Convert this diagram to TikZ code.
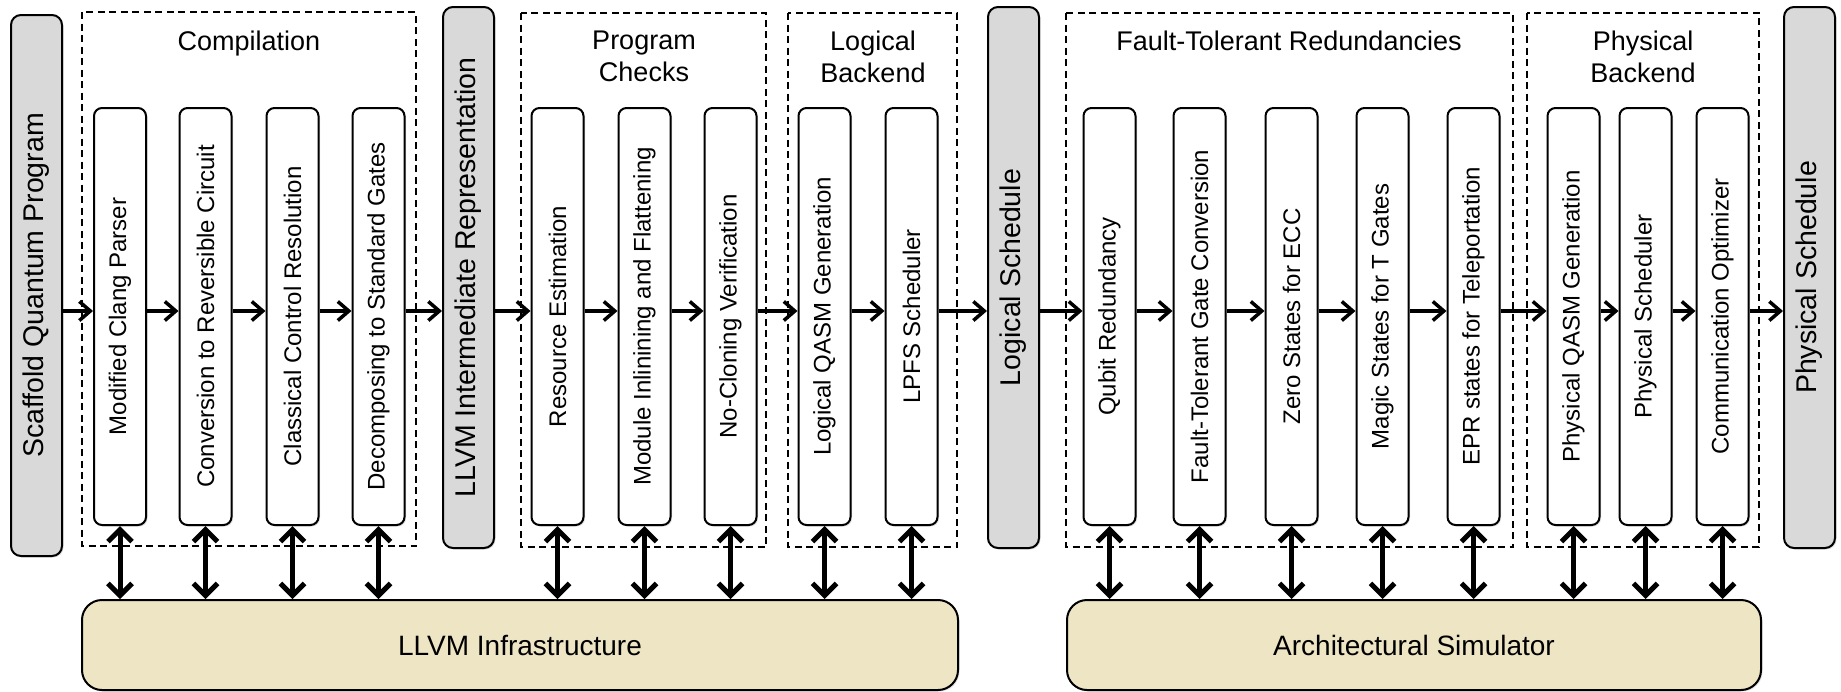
\documentclass[tikz,border=0pt]{standalone}
\usepackage{fontspec}
\setmainfont{Liberation Sans}
\usepackage{graphicx}
\usetikzlibrary{arrows.meta,shadows}
\definecolor{graybox}{RGB}{217,217,217}
\definecolor{beige}{RGB}{238,229,196}
\tikzset{
  shd/.style={drop shadow={shadow xshift=1.5pt, shadow yshift=-1.5pt, opacity=0.25}},
  basebox/.style={draw=black, line width=2pt, inner sep=0pt, shd},
  stage/.style={basebox, fill=white, rounded corners=8pt, minimum width=52pt, minimum height=417pt, font=\fontsize{24}{28}\selectfont},
  bigbox/.style={basebox, fill=graybox, rounded corners=10pt, minimum width=51pt, minimum height=541pt, font=\fontsize{28.5}{34}\selectfont},
  infra/.style={basebox, fill=beige, rounded corners=20pt, minimum height=90pt, font=\fontsize{28}{34}\selectfont},
  frame/.style={draw=black, line width=1.8pt, dash pattern=on 7pt off 4.5pt},
  ttl/.style={anchor=north, inner sep=0pt, align=center, font=\fontsize{27}{32}\selectfont},
  harr/.style={line width=3.5pt, -{Straight Barb[length=11pt,width=19pt]}},
  varr/.style={line width=5pt, {Straight Barb[length=12pt,width=24pt]}-{Straight Barb[length=12pt,width=24pt]}},
}
\begin{document}
\begin{tikzpicture}[x=1pt,y=-1pt]
\useasboundingbox (0,0) rectangle (1841,691);
% dashed groups
\draw[frame] (82,12) rectangle (416,546);
\draw[frame] (521,13) rectangle (766,547);
\draw[frame] (788,13) rectangle (957,547);
\draw[frame] (1066,13) rectangle (1513,547);
\draw[frame] (1527,13) rectangle (1759,547);
% titles
\node[ttl] (tcomp) at (249,31) {Compilation};
\node[ttl] (tpc) at (644,31) {Program\\Checks};
\node[ttl] (tlb) at (873,31) {Logical\\Backend};
\node[ttl] (tft) at (1289,31) {Fault-Tolerant Redundancies};
\node[ttl] (tpb) at (1643,31) {Physical\\Backend};
% big boxes
\node[bigbox] (sqp) at (36.5,285.5) {\rotatebox{90}{Scaffold Quantum Program}};
\node[bigbox] (ir) at (468.5,277.5) {\rotatebox{90}{LLVM Intermediate Representation}};
\node[bigbox] (ls) at (1013.5,277.5) {\rotatebox{90}{Logical Schedule}};
\node[bigbox] (ps) at (1809.5,277.5) {\rotatebox{90}{Physical Schedule}};
% stages
\node[stage] (b1) at (120,316.5) {\rotatebox{90}{Modified Clang Parser}};
\node[stage] (b2) at (205.5,316.5) {\rotatebox{90}{Conversion to Reversible Circuit}};
\node[stage] (b3) at (292.5,316.5) {\rotatebox{90}{Classical Control Resolution}};
\node[stage] (b4) at (378.5,316.5) {\rotatebox{90}{Decomposing to Standard Gates}};
\node[stage] (pc1) at (557.5,316.5) {\rotatebox{90}{Resource Estimation}};
\node[stage] (pc2) at (644.5,316.5) {\rotatebox{90}{Module Inlinining and Flattening}};
\node[stage] (pc3) at (730.5,316.5) {\rotatebox{90}{No-Cloning Verification}};
\node[stage] (lb1) at (824.5,316.5) {\rotatebox{90}{Logical QASM Generation}};
\node[stage] (lb2) at (911.5,316.5) {\rotatebox{90}{LPFS Scheduler}};
\node[stage] (ft1) at (1109.5,316.5) {\rotatebox{90}{Qubit Redundancy}};
\node[stage] (ft2) at (1199.5,316.5) {\rotatebox{90}{Fault-Tolerant Gate Conversion}};
\node[stage] (ft3) at (1291.5,316.5) {\rotatebox{90}{Zero States for ECC}};
\node[stage] (ft4) at (1382.5,316.5) {\rotatebox{90}{Magic States for T Gates}};
\node[stage] (ft5) at (1473.5,316.5) {\rotatebox{90}{EPR states for Teleportation}};
\node[stage] (pb1) at (1573.5,316.5) {\rotatebox{90}{Physical QASM Generation}};
\node[stage] (pb2) at (1645.5,316.5) {\rotatebox{90}{Physical Scheduler}};
\node[stage] (pb3) at (1722.5,316.5) {\rotatebox{90}{Communication Optimizer}};
% infrastructure
\node[infra, minimum width=876pt] (llvm) at (520,645) {LLVM Infrastructure};
\node[infra, minimum width=694pt] (arch) at (1414,645) {Architectural Simulator};
% flow arrows
\coordinate (ay) at (0,311);
\foreach \a/\b in {sqp/b1,b1/b2,b2/b3,b3/b4,b4/ir,ir/pc1,pc1/pc2,pc2/pc3,pc3/lb1,lb1/lb2,lb2/ls,ls/ft1,ft1/ft2,ft2/ft3,ft3/ft4,ft4/ft5,ft5/pb1,pb1/pb2,pb2/pb3,pb3/ps}
  \draw[harr] (\a.east |- ay) -- (\b.west |- ay);
% infrastructure links
\foreach \s in {b1,b2,b3,b4,pc1,pc2,pc3,lb1,lb2}
  \draw[varr] (\s.south) -- (\s.south |- llvm.north);
\foreach \s in {ft1,ft2,ft3,ft4,ft5,pb1,pb2,pb3}
  \draw[varr] (\s.south) -- (\s.south |- arch.north);
\end{tikzpicture}
\end{document}
